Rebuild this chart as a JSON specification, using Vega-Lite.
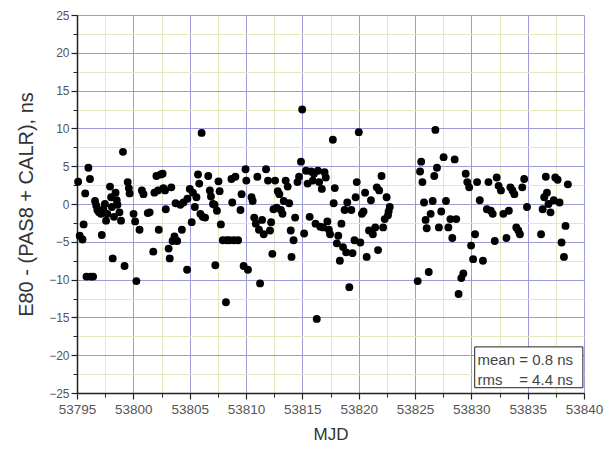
{
  "$schema": "https://vega.github.io/schema/vega-lite/v6.json",
  "width": 507,
  "height": 378,
  "autosize": "none",
  "padding": {"left": 77, "top": 15, "right": 26, "bottom": 59},
  "background": "white",
  "config": {"view": {"stroke": null}, "font": "Liberation Sans"},
  "datasets": {
    "pts": [
      {"mjd":53795.10,"d":2.95},{"mjd":53795.24,"d":-4.2},{"mjd":53795.49,"d":-4.7},{"mjd":53795.59,"d":-2.7},{"mjd":53795.73,"d":1.4},
      {"mjd":53795.84,"d":-9.6},{"mjd":53796.01,"d":4.8},{"mjd":53796.15,"d":3.3},{"mjd":53796.22,"d":-9.6},{"mjd":53796.43,"d":-9.6},
      {"mjd":53796.60,"d":0.4},{"mjd":53796.71,"d":-0.2},{"mjd":53796.81,"d":-0.8},{"mjd":53796.95,"d":-1.1},{"mjd":53797.13,"d":-1.3},
      {"mjd":53797.20,"d":-4.1},{"mjd":53797.34,"d":-0.7},{"mjd":53797.48,"d":0.0},{"mjd":53797.58,"d":-2.2},{"mjd":53797.69,"d":-1.3},
      {"mjd":53797.93,"d":2.3},{"mjd":53798.03,"d":0.9},{"mjd":53798.10,"d":-0.4},{"mjd":53798.17,"d":-7.2},{"mjd":53798.28,"d":-1.7},
      {"mjd":53798.42,"d":1.5},{"mjd":53798.52,"d":0.5},{"mjd":53798.59,"d":-0.1},{"mjd":53798.77,"d":-1.1},{"mjd":53798.91,"d":-2.2},
      {"mjd":53799.08,"d":6.9},{"mjd":53799.22,"d":-8.2},{"mjd":53799.50,"d":2.9},{"mjd":53799.60,"d":2.1},{"mjd":53799.67,"d":1.4},
      {"mjd":53800.02,"d":-1.3},{"mjd":53800.16,"d":-2.3},{"mjd":53800.27,"d":-10.2},{"mjd":53800.55,"d":-3.4},{"mjd":53800.76,"d":1.8},
      {"mjd":53800.90,"d":1.3},{"mjd":53801.28,"d":-1.2},{"mjd":53801.45,"d":-1.1},{"mjd":53801.77,"d":-6.3},{"mjd":53801.87,"d":1.5},
      {"mjd":53802.05,"d":3.7},{"mjd":53802.19,"d":1.8},{"mjd":53802.26,"d":-3.4},{"mjd":53802.43,"d":3.9},{"mjd":53802.60,"d":4.0},
      {"mjd":53802.67,"d":2.1},{"mjd":53802.81,"d":1.8},{"mjd":53802.88,"d":-0.7},{"mjd":53803.13,"d":-5.9},{"mjd":53803.23,"d":-7.2},
      {"mjd":53803.37,"d":2.2},{"mjd":53803.48,"d":-4.9},{"mjd":53803.65,"d":-4.3},{"mjd":53803.75,"d":0.1},{"mjd":53803.89,"d":-4.9},
      {"mjd":53804.17,"d":-0.1},{"mjd":53804.31,"d":-3.4},{"mjd":53804.45,"d":0.2},{"mjd":53804.77,"d":-8.7},{"mjd":53804.80,"d":0.7},
      {"mjd":53805.01,"d":2.0},{"mjd":53805.18,"d":-2.4},{"mjd":53805.29,"d":1.5},{"mjd":53805.46,"d":-0.4},{"mjd":53805.60,"d":0.9},
      {"mjd":53805.74,"d":3.9},{"mjd":53805.85,"d":2.7},{"mjd":53805.95,"d":-1.3},{"mjd":53806.06,"d":9.4},{"mjd":53806.16,"d":-1.7},
      {"mjd":53806.37,"d":-1.8},{"mjd":53806.65,"d":3.7},{"mjd":53806.79,"d":1.8},{"mjd":53806.89,"d":1.0},{"mjd":53807.07,"d":0.0},
      {"mjd":53807.21,"d":-0.1},{"mjd":53807.28,"d":-8.1},{"mjd":53807.42,"d":-0.9},{"mjd":53807.56,"d":3.0},{"mjd":53807.66,"d":1.7},
      {"mjd":53807.77,"d":-2.7},{"mjd":53807.94,"d":-4.8},{"mjd":53808.22,"d":-13.0},{"mjd":53808.29,"d":-4.8},{"mjd":53808.53,"d":-4.8},
      {"mjd":53808.71,"d":3.3},{"mjd":53808.78,"d":0.2},{"mjd":53808.92,"d":-4.8},{"mjd":53809.06,"d":3.6},{"mjd":53809.30,"d":-4.8},
      {"mjd":53809.51,"d":-0.8},{"mjd":53809.61,"d":1.3},{"mjd":53809.79,"d":-8.2},{"mjd":53809.96,"d":4.6},{"mjd":53810.03,"d":3.1},
      {"mjd":53810.17,"d":-8.7},{"mjd":53810.49,"d":0.9},{"mjd":53810.59,"d":0.4},{"mjd":53810.73,"d":-1.8},{"mjd":53810.87,"d":-2.6},
      {"mjd":53811.01,"d":3.6},{"mjd":53811.15,"d":-3.4},{"mjd":53811.25,"d":-10.5},{"mjd":53811.43,"d":-2.1},{"mjd":53811.57,"d":-4.0},
      {"mjd":53811.78,"d":4.6},{"mjd":53811.95,"d":3.1},{"mjd":53812.13,"d":-3.5},{"mjd":53812.23,"d":-2.4},{"mjd":53812.34,"d":-6.6},
      {"mjd":53812.44,"d":-0.7},{"mjd":53812.58,"d":3.1},{"mjd":53812.72,"d":-0.5},{"mjd":53812.82,"d":1.7},{"mjd":53812.96,"d":1.3},
      {"mjd":53813.10,"d":-0.8},{"mjd":53813.24,"d":-1.3},{"mjd":53813.35,"d":0.4},{"mjd":53813.52,"d":3.1},{"mjd":53813.70,"d":2.3},
      {"mjd":53813.83,"d":0.1},{"mjd":53813.97,"d":-3.5},{"mjd":53814.04,"d":-7.0},{"mjd":53814.22,"d":-4.8},{"mjd":53814.36,"d":-1.8},
      {"mjd":53814.57,"d":2.9},{"mjd":53814.71,"d":3.6},{"mjd":53814.88,"d":5.6},{"mjd":53814.99,"d":12.5},{"mjd":53815.16,"d":-3.9},
      {"mjd":53815.33,"d":4.4},{"mjd":53815.47,"d":2.7},{"mjd":53815.65,"d":-1.7},{"mjd":53815.79,"d":4.3},{"mjd":53815.93,"d":3.1},
      {"mjd":53816.03,"d":4.0},{"mjd":53816.17,"d":-2.6},{"mjd":53816.28,"d":-15.2},{"mjd":53816.38,"d":4.4},{"mjd":53816.49,"d":2.9},
      {"mjd":53816.59,"d":-3.0},{"mjd":53816.73,"d":2.0},{"mjd":53816.83,"d":-3.1},{"mjd":53816.97,"d":4.2},{"mjd":53817.08,"d":3.5},
      {"mjd":53817.22,"d":-2.3},{"mjd":53817.36,"d":-3.4},{"mjd":53817.46,"d":-4.0},{"mjd":53817.71,"d":8.5},{"mjd":53817.78,"d":0.1},
      {"mjd":53817.88,"d":2.1},{"mjd":53818.06,"d":-5.2},{"mjd":53818.19,"d":-4.2},{"mjd":53818.33,"d":-7.5},{"mjd":53818.47,"d":-2.6},
      {"mjd":53818.61,"d":-5.7},{"mjd":53818.75,"d":-0.8},{"mjd":53818.89,"d":-6.4},{"mjd":53818.99,"d":0.2},{"mjd":53819.17,"d":-11.0},
      {"mjd":53819.35,"d":-0.8},{"mjd":53819.45,"d":-6.5},{"mjd":53819.63,"d":-4.8},{"mjd":53819.73,"d":0.9},{"mjd":53819.83,"d":2.9},
      {"mjd":53820.01,"d":9.5},{"mjd":53820.15,"d":-5.1},{"mjd":53820.29,"d":-1.3},{"mjd":53820.43,"d":-1.0},{"mjd":53820.57,"d":1.5},
      {"mjd":53820.71,"d":-7.0},{"mjd":53820.92,"d":-3.5},{"mjd":53821.09,"d":0.5},{"mjd":53821.26,"d":-4.0},{"mjd":53821.47,"d":-3.1},
      {"mjd":53821.61,"d":2.2},{"mjd":53821.72,"d":-6.1},{"mjd":53821.82,"d":1.8},{"mjd":53822.03,"d":3.7},{"mjd":53822.17,"d":-3.1},
      {"mjd":53822.31,"d":-2.0},{"mjd":53822.48,"d":0.9},{"mjd":53822.66,"d":-1.0},{"mjd":53822.76,"d":-0.4},{"mjd":53822.60,"d":-1.5},
      {"mjd":53825.24,"d":-10.2},{"mjd":53825.45,"d":4.3},{"mjd":53825.55,"d":5.6},{"mjd":53825.66,"d":2.9},{"mjd":53825.80,"d":0.2},
      {"mjd":53825.94,"d":-2.1},{"mjd":53826.04,"d":-3.2},{"mjd":53826.22,"d":-9.0},{"mjd":53826.39,"d":-1.3},{"mjd":53826.57,"d":0.4},
      {"mjd":53826.71,"d":3.7},{"mjd":53826.81,"d":9.8},{"mjd":53826.95,"d":4.8},{"mjd":53827.12,"d":-3.1},{"mjd":53827.33,"d":-1.0},
      {"mjd":53827.54,"d":6.2},{"mjd":53827.75,"d":0.4},{"mjd":53827.96,"d":-3.1},{"mjd":53828.14,"d":-2.0},{"mjd":53828.31,"d":-4.5},
      {"mjd":53828.52,"d":5.9},{"mjd":53828.66,"d":-2.0},{"mjd":53828.87,"d":-11.9},{"mjd":53829.11,"d":-9.8},{"mjd":53829.29,"d":-9.2},
      {"mjd":53829.50,"d":4.0},{"mjd":53829.64,"d":2.9},{"mjd":53829.81,"d":2.2},{"mjd":53829.98,"d":-5.5},{"mjd":53830.16,"d":-7.3},
      {"mjd":53830.33,"d":-4.0},{"mjd":53830.51,"d":2.9},{"mjd":53830.75,"d":0.5},{"mjd":53831.03,"d":-7.5},{"mjd":53831.38,"d":-0.7},
      {"mjd":53831.52,"d":2.9},{"mjd":53831.73,"d":-0.9},{"mjd":53831.90,"d":-1.3},{"mjd":53832.08,"d":-4.9},{"mjd":53832.25,"d":3.5},
      {"mjd":53832.42,"d":2.4},{"mjd":53832.63,"d":1.8},{"mjd":53832.84,"d":-1.3},{"mjd":53833.12,"d":-4.5},{"mjd":53833.33,"d":-0.9},
      {"mjd":53833.47,"d":2.2},{"mjd":53833.65,"d":1.8},{"mjd":53833.82,"d":1.3},{"mjd":53833.99,"d":-3.1},{"mjd":53834.17,"d":-3.5},
      {"mjd":53834.31,"d":-4.0},{"mjd":53834.52,"d":2.2},{"mjd":53834.69,"d":3.3},{"mjd":53834.94,"d":-0.4},{"mjd":53836.19,"d":-4.0},
      {"mjd":53836.33,"d":-0.7},{"mjd":53836.47,"d":0.9},{"mjd":53836.61,"d":3.6},{"mjd":53836.71,"d":1.5},{"mjd":53836.85,"d":0.0},
      {"mjd":53837.03,"d":-1.1},{"mjd":53837.31,"d":0.5},{"mjd":53837.45,"d":3.5},{"mjd":53837.66,"d":3.2},{"mjd":53837.83,"d":0.2},
      {"mjd":53838.01,"d":-5.1},{"mjd":53838.22,"d":-7.0},{"mjd":53838.36,"d":-2.9},{"mjd":53838.57,"d":2.6}
    ],
    "box": [{"x1": 53830.3, "x2": 53839.9, "y1": -18.9, "y2": -24.3}],
    "notes": [
      {"x": 53830.55, "y": -20.7, "t": "mean = 0.8 ns"},
      {"x": 53830.55, "y": -23.3, "t": "rms\u00a0\u00a0\u00a0\u00a0= 4.4 ns"}
    ]
  },
  "layer": [
    {
      "data": {"name": "box"},
      "mark": {"type": "rect", "fill": "white", "stroke": "#222", "strokeWidth": 1},
      "encoding": {
        "x": {"field": "x1", "type": "quantitative", "scale": {"domain": [53795, 53840], "nice": false, "zero": false},
          "axis": {"orient": "bottom", "values": [53797.5, 53802.5, 53807.5, 53812.5, 53817.5, 53822.5, 53827.5, 53832.5, 53837.5],
            "labels": false, "domain": false, "ticks": true, "tickSize": 4, "tickColor": "#222", "grid": true, "gridColor": "#e2eac0", "gridWidth": 1, "title": null}},
        "x2": {"field": "x2"},
        "y": {"field": "y1", "type": "quantitative", "scale": {"domain": [-25, 25], "nice": false, "zero": false},
          "axis": {"orient": "left", "values": [-22.5, -17.5, -12.5, -7.5, -2.5, 2.5, 7.5, 12.5, 17.5, 22.5],
            "labels": false, "domain": false, "ticks": true, "tickSize": 4, "tickColor": "#222", "grid": true, "gridColor": "#e2eac0", "gridWidth": 1, "title": null}},
        "y2": {"field": "y2"}
      }
    },
    {
      "data": {"name": "pts"},
      "mark": {"type": "point", "shape": "circle", "filled": true, "color": "black", "opacity": 1, "size": 62},
      "encoding": {
        "x": {"field": "mjd", "type": "quantitative", "scale": {"domain": [53795, 53840], "nice": false, "zero": false},
          "axis": {"orient": "bottom", "values": [53795, 53800, 53805, 53810, 53815, 53820, 53825, 53830, 53835, 53840], "format": "d",
            "labelOverlap": false, "labelFlush": false, "labelBound": false,
            "grid": true, "gridColor": "#9c9cd6", "gridWidth": 1, "domainColor": "#222", "domainWidth": 1.5, "tickColor": "#222", "tickSize": 6, "tickWidth": 1.2,
            "labelFontSize": 13.5, "labelColor": "#555", "labelPadding": 3, "title": "MJD", "titleFontSize": 17, "titleFontWeight": "normal", "titleColor": "#333", "titlePadding": 11}},
        "y": {"field": "d", "type": "quantitative", "scale": {"domain": [-25, 25], "nice": false, "zero": false},
          "axis": {"orient": "left", "values": [-25, -20, -15, -10, -5, 0, 5, 10, 15, 20, 25],
            "labelOverlap": false, "labelFlush": false, "labelBound": false,
            "grid": true, "gridColor": "#9c9cd6", "gridWidth": 1, "domainColor": "#222", "domainWidth": 1.5, "tickColor": "#222", "tickSize": 6, "tickWidth": 1.2,
            "labelFontSize": 12, "labelColor": "#555", "labelPadding": 2, "title": "E80 - (PAS8 + CALR), ns", "titleFontSize": 20, "titleFontWeight": "normal", "titleColor": "#333", "titlePadding": 12}}
      }
    },
    {
      "data": {"name": "notes"},
      "mark": {"type": "text", "align": "left", "baseline": "middle", "fontSize": 15, "color": "#444"},
      "encoding": {
        "x": {"field": "x", "type": "quantitative", "scale": {"domain": [53795, 53840], "nice": false, "zero": false}, "axis": null},
        "y": {"field": "y", "type": "quantitative", "scale": {"domain": [-25, 25], "nice": false, "zero": false}, "axis": null},
        "text": {"field": "t"}
      }
    }
  ],
  "resolve": {"axis": {"x": "independent", "y": "independent"}}
}
